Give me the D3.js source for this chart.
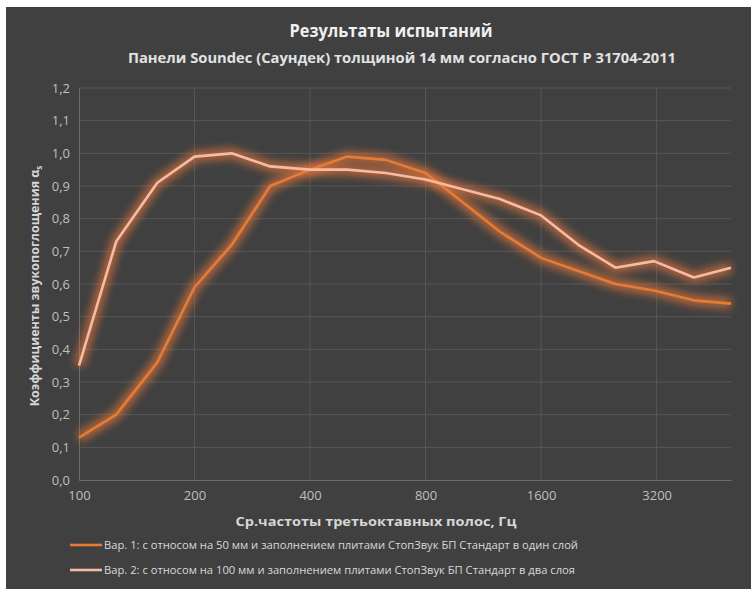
<!DOCTYPE html>
<html><head><meta charset="utf-8">
<script src="https://cdn.jsdelivr.net/npm/d3@7"></script>
<style>body{margin:0;background:#fff;}svg{display:block;font-family:"Open Sans",sans-serif;}</style>
</head><body>
<svg id="c" width="751" height="589"></svg>
<script>
const freqs = [100,125,160,200,250,315,400,500,630,800,1000,1250,1600,2000,2500,3150,4000,5000];
const var1 = [0.13,0.20,0.36,0.59,0.72,0.90,0.95,0.99,0.98,0.94,0.85,0.76,0.68,0.64,0.60,0.58,0.55,0.54];
const var2 = [0.35,0.73,0.91,0.99,1.00,0.96,0.95,0.95,0.94,0.92,0.89,0.86,0.81,0.72,0.65,0.67,0.62,0.65];
const xTicks = [100,200,400,800,1600,3200];
const yTicks = [0,0.1,0.2,0.3,0.4,0.5,0.6,0.7,0.8,0.9,1.0,1.1,1.2];
const seriesNames = ["Вар. 1: с относом на 50 мм и заполнением плитами СтопЗвук БП Стандарт в один слой",
                     "Вар. 2: с относом на 100 мм и заполнением плитами СтопЗвук БП Стандарт в два слоя"];
const colors = ["#e67b35","#f6bca3"];
const title = "Результаты испытаний";
const subtitle = "Панели Soundec (Саундек) толщиной 14 мм согласно ГОСТ Р 31704-2011";
const xTitle = "Ср.частоты третьоктавных полос, Гц";
const yTitle = "Коэффициенты звукопоглощения α";

const svg = d3.select("#c");
const defs = svg.append("defs");
const f = defs.append("filter").attr("id","glow").attr("x","-20%").attr("y","-20%").attr("width","140%").attr("height","140%");
f.append("feGaussianBlur").attr("stdDeviation",4);

svg.append("rect").attr("x",6).attr("y",7).attr("width",745).attr("height",582).attr("fill","#404040");

const x = d3.scaleLog().base(2).domain([100,5000]).range([79,731]);
const y = d3.scaleLinear().domain([0,1.2]).range([480,88]);

// gridlines
const g = svg.append("g");
g.selectAll(".hg").data(yTicks.slice(1)).enter().append("line")
  .attr("x1",79).attr("x2",731).attr("y1",d=>y(d)).attr("y2",d=>y(d))
  .attr("stroke","#575757").attr("stroke-width",1);
g.selectAll(".vg").data(xTicks.slice(1)).enter().append("line")
  .attr("y1",88).attr("y2",480).attr("x1",d=>x(d)).attr("x2",d=>x(d))
  .attr("stroke","#575757").attr("stroke-width",1);

// axes
const yAxis = d3.axisLeft(y).tickValues(yTicks).tickSize(0).tickPadding(9)
  .tickFormat(d=>d3.format(".1f")(d).replace(".",","));
const ya = svg.append("g").attr("transform","translate(79,0)").call(yAxis);
ya.select(".domain").attr("stroke","#6b6b6b");
ya.selectAll("text").attr("fill","#bfbfbf").attr("font-size",13).attr("font-family","Open Sans");

const xAxis = d3.axisBottom(x).tickValues(xTicks).tickSize(0).tickPadding(11).tickFormat(d3.format("d"));
const xa = svg.append("g").attr("transform","translate(0,480)").call(xAxis);
xa.select(".domain").attr("stroke","#6b6b6b");
xa.selectAll("text").attr("fill","#bfbfbf").attr("font-size",13).attr("font-family","Open Sans");

// lines
const line = d3.line().x((d,i)=>x(freqs[i])).y(d=>y(d));
[var1,var2].forEach((s,k)=>{
  svg.append("path").datum(s).attr("d",line).attr("fill","none")
    .attr("stroke","#e8783a").attr("stroke-opacity",0.7).attr("stroke-width",10)
    .attr("stroke-linejoin","round").attr("filter","url(#glow)");
});
[var1,var2].forEach((s,k)=>{
  svg.append("path").datum(s).attr("d",line).attr("fill","none")
    .attr("stroke",colors[k]).attr("stroke-width",2.6).attr("stroke-linejoin","round");
});

// titles
svg.append("text").attr("x",391).attr("y",37).attr("text-anchor","middle")
  .attr("fill","#f0f0f0").attr("font-size",18).attr("font-weight","bold")
  .attr("textLength",203).attr("lengthAdjust","spacingAndGlyphs").text(title);
svg.append("text").attr("x",402).attr("y",63).attr("text-anchor","middle")
  .attr("fill","#e2e2e2").attr("font-size",14).attr("font-weight","bold")
  .attr("textLength",548).attr("lengthAdjust","spacingAndGlyphs").text(subtitle);
svg.append("text").attr("x",376).attr("y",526).attr("text-anchor","middle")
  .attr("fill","#d6d6d6").attr("font-size",13).attr("font-weight","bold")
  .attr("textLength",281).attr("lengthAdjust","spacingAndGlyphs").text(xTitle);
const yt = svg.append("text").attr("transform","translate(39,286) rotate(-90)").attr("text-anchor","middle")
  .attr("fill","#d6d6d6").attr("font-size",12.5).attr("font-weight","bold");
yt.append("tspan").text(yTitle);
yt.append("tspan").attr("font-size",8).attr("dy",3).text("s");

// legend
const lg = svg.append("g");
seriesNames.forEach((n,k)=>{
  const yy = 545 + k*25;
  lg.append("line").attr("x1",70).attr("x2",102).attr("y1",yy).attr("y2",yy)
    .attr("stroke",colors[k]).attr("stroke-width",2.6);
  lg.append("text").attr("x",104).attr("y",yy+4).attr("fill","#d9d9d9").attr("font-size",11)
    .attr("textLength",k===0?474:471).attr("lengthAdjust","spacingAndGlyphs").text(n);
});
</script>
</body></html>
